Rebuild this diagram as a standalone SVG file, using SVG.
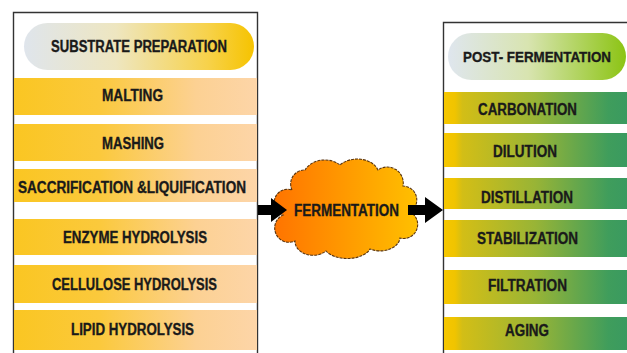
<svg xmlns="http://www.w3.org/2000/svg" width="627" height="353" viewBox="0 0 627 353">
  <defs>
    <linearGradient id="pillY" x1="0" y1="0" x2="1" y2="0">
      <stop offset="0" stop-color="#dfe5ec"/>
      <stop offset="0.4" stop-color="#eee6c0"/>
      <stop offset="0.8" stop-color="#f7d24a"/>
      <stop offset="1" stop-color="#f6c300"/>
    </linearGradient>
    <linearGradient id="pillG" x1="0" y1="0" x2="1" y2="0">
      <stop offset="0" stop-color="#dfe6ee"/>
      <stop offset="0.45" stop-color="#d8e4b0"/>
      <stop offset="1" stop-color="#8cc414"/>
    </linearGradient>
    <linearGradient id="bandY" gradientUnits="userSpaceOnUse" x1="14" y1="0" x2="257" y2="0">
      <stop offset="0" stop-color="#fac622"/>
      <stop offset="0.35" stop-color="#fbc93c"/>
      <stop offset="0.75" stop-color="#fcd193"/>
      <stop offset="1" stop-color="#fdd5a8"/>
    </linearGradient>
    <linearGradient id="bandG" gradientUnits="userSpaceOnUse" x1="444" y1="0" x2="627" y2="0">
      <stop offset="0" stop-color="#f6c700"/>
      <stop offset="0.06" stop-color="#f0c400"/>
      <stop offset="0.1" stop-color="#d3be16"/>
      <stop offset="0.5" stop-color="#98b436"/>
      <stop offset="0.9" stop-color="#3f9d5c"/>
      <stop offset="1" stop-color="#3a9a60"/>
    </linearGradient>
    <linearGradient id="cloudG" x1="0" y1="0" x2="1" y2="0">
      <stop offset="0" stop-color="#ff7400"/>
      <stop offset="1" stop-color="#ffc000"/>
    </linearGradient>
    <style>
      .lbl{font-family:"Liberation Sans",Arial,sans-serif;font-weight:bold;font-size:16px;fill:#1a1a1a;stroke:#1a1a1a;stroke-width:0.35}
      .frame{fill:none;stroke:#333;stroke-width:1.4}
      .arrow{fill:#000}
    </style>
  </defs>
  <rect width="627" height="353" fill="#fff"/>

  <g id="substrate-panel">
    <path class="frame" d="M13.5,353 V12.5 H257.5 V353"/>
    <g id="substrate-preparation">
      <rect x="24" y="23" width="230" height="47" rx="23.5" fill="url(#pillY)"/>
      <text class="lbl" x="51" y="52" textLength="176" lengthAdjust="spacingAndGlyphs">SUBSTRATE PREPARATION</text>
    </g>
    <g id="malting">
      <rect x="14" y="78" width="243" height="37" fill="url(#bandY)"/>
      <text class="lbl" x="102" y="100.5" textLength="61" lengthAdjust="spacingAndGlyphs">MALTING</text>
    </g>
    <g id="mashing">
      <rect x="14" y="124" width="243" height="37" fill="url(#bandY)"/>
      <text class="lbl" x="102" y="148.5" textLength="62" lengthAdjust="spacingAndGlyphs">MASHING</text>
    </g>
    <g id="saccrification">
      <rect x="14" y="169" width="243" height="33" fill="url(#bandY)"/>
      <text class="lbl" x="18" y="192.5" textLength="228" lengthAdjust="spacingAndGlyphs">SACCRIFICATION &amp;LIQUIFICATION</text>
    </g>
    <g id="enzyme-hydrolysis">
      <rect x="14" y="219" width="243" height="36" fill="url(#bandY)"/>
      <text class="lbl" x="63" y="242.5" textLength="144" lengthAdjust="spacingAndGlyphs">ENZYME HYDROLYSIS</text>
    </g>
    <g id="cellulose-hydrolysis">
      <rect x="14" y="265" width="243" height="38" fill="url(#bandY)"/>
      <text class="lbl" x="52" y="289.5" textLength="165" lengthAdjust="spacingAndGlyphs">CELLULOSE HYDROLYSIS</text>
    </g>
    <g id="lipid-hydrolysis">
      <rect x="14" y="310" width="243" height="40" fill="url(#bandY)"/>
      <text class="lbl" x="71" y="334.5" textLength="123" lengthAdjust="spacingAndGlyphs">LIPID HYDROLYSIS</text>
    </g>
  </g>

  <g id="fermentation">
    <path d="M292,190 A14,14 0 0 1 305,170 A22,18 0 0 1 340,165 A22,16 0 0 1 378,170 A16,16 0 0 1 403,186 A14,14 0 0 1 410,212 A14,14 0 0 1 400,238 A20,14 0 0 1 370,249 A24,14 0 0 1 326,251 A18,14 0 0 1 295,241 A14,14 0 0 1 283,215 A12,12 0 0 1 292,190 Z" fill="url(#cloudG)" stroke="#5a3510" stroke-width="1.1" stroke-dasharray="3 1"/>
    <text class="lbl" x="294" y="215.5" textLength="105" lengthAdjust="spacingAndGlyphs">FERMENTATION</text>
  </g>

  <g id="post-panel">
    <path class="frame" d="M443.5,353 V22.5 H627"/>
    <g id="post-fermentation">
      <rect x="448" y="33" width="178" height="47" rx="23.5" fill="url(#pillG)"/>
      <text class="lbl" x="537" y="62" text-anchor="middle" style="font-size:14px" textLength="148" lengthAdjust="spacingAndGlyphs">POST- FERMENTATION</text>
    </g>
    <g id="carbonation">
      <rect x="444" y="92" width="183" height="32" fill="url(#bandG)"/>
      <text class="lbl" x="478" y="115" textLength="99" lengthAdjust="spacingAndGlyphs">CARBONATION</text>
    </g>
    <g id="dilution">
      <rect x="444" y="133" width="183" height="34" fill="url(#bandG)"/>
      <text class="lbl" x="493" y="156.5" textLength="64" lengthAdjust="spacingAndGlyphs">DILUTION</text>
    </g>
    <g id="distillation">
      <rect x="444" y="178" width="183" height="31" fill="url(#bandG)"/>
      <text class="lbl" x="481" y="202.5" textLength="92" lengthAdjust="spacingAndGlyphs">DISTILLATION</text>
    </g>
    <g id="stabilization">
      <rect x="444" y="220" width="183" height="37" fill="url(#bandG)"/>
      <text class="lbl" x="477" y="243.5" textLength="101" lengthAdjust="spacingAndGlyphs">STABILIZATION</text>
    </g>
    <g id="filtration">
      <rect x="444" y="270" width="183" height="34" fill="url(#bandG)"/>
      <text class="lbl" x="488" y="290.5" textLength="79" lengthAdjust="spacingAndGlyphs">FILTRATION</text>
    </g>
    <g id="aging">
      <rect x="444" y="317" width="183" height="33" fill="url(#bandG)"/>
      <text class="lbl" x="505" y="335.5" textLength="44" lengthAdjust="spacingAndGlyphs">AGING</text>
    </g>
  </g>

  <g id="connectors">
    <path class="arrow" d="M258,205 H271 V198 L287,210 L271,222 V215 H258 Z"/>
    <path class="arrow" d="M408,205 H425 V197 L443,210 L425,223 V215 H408 Z"/>
  </g>
</svg>
